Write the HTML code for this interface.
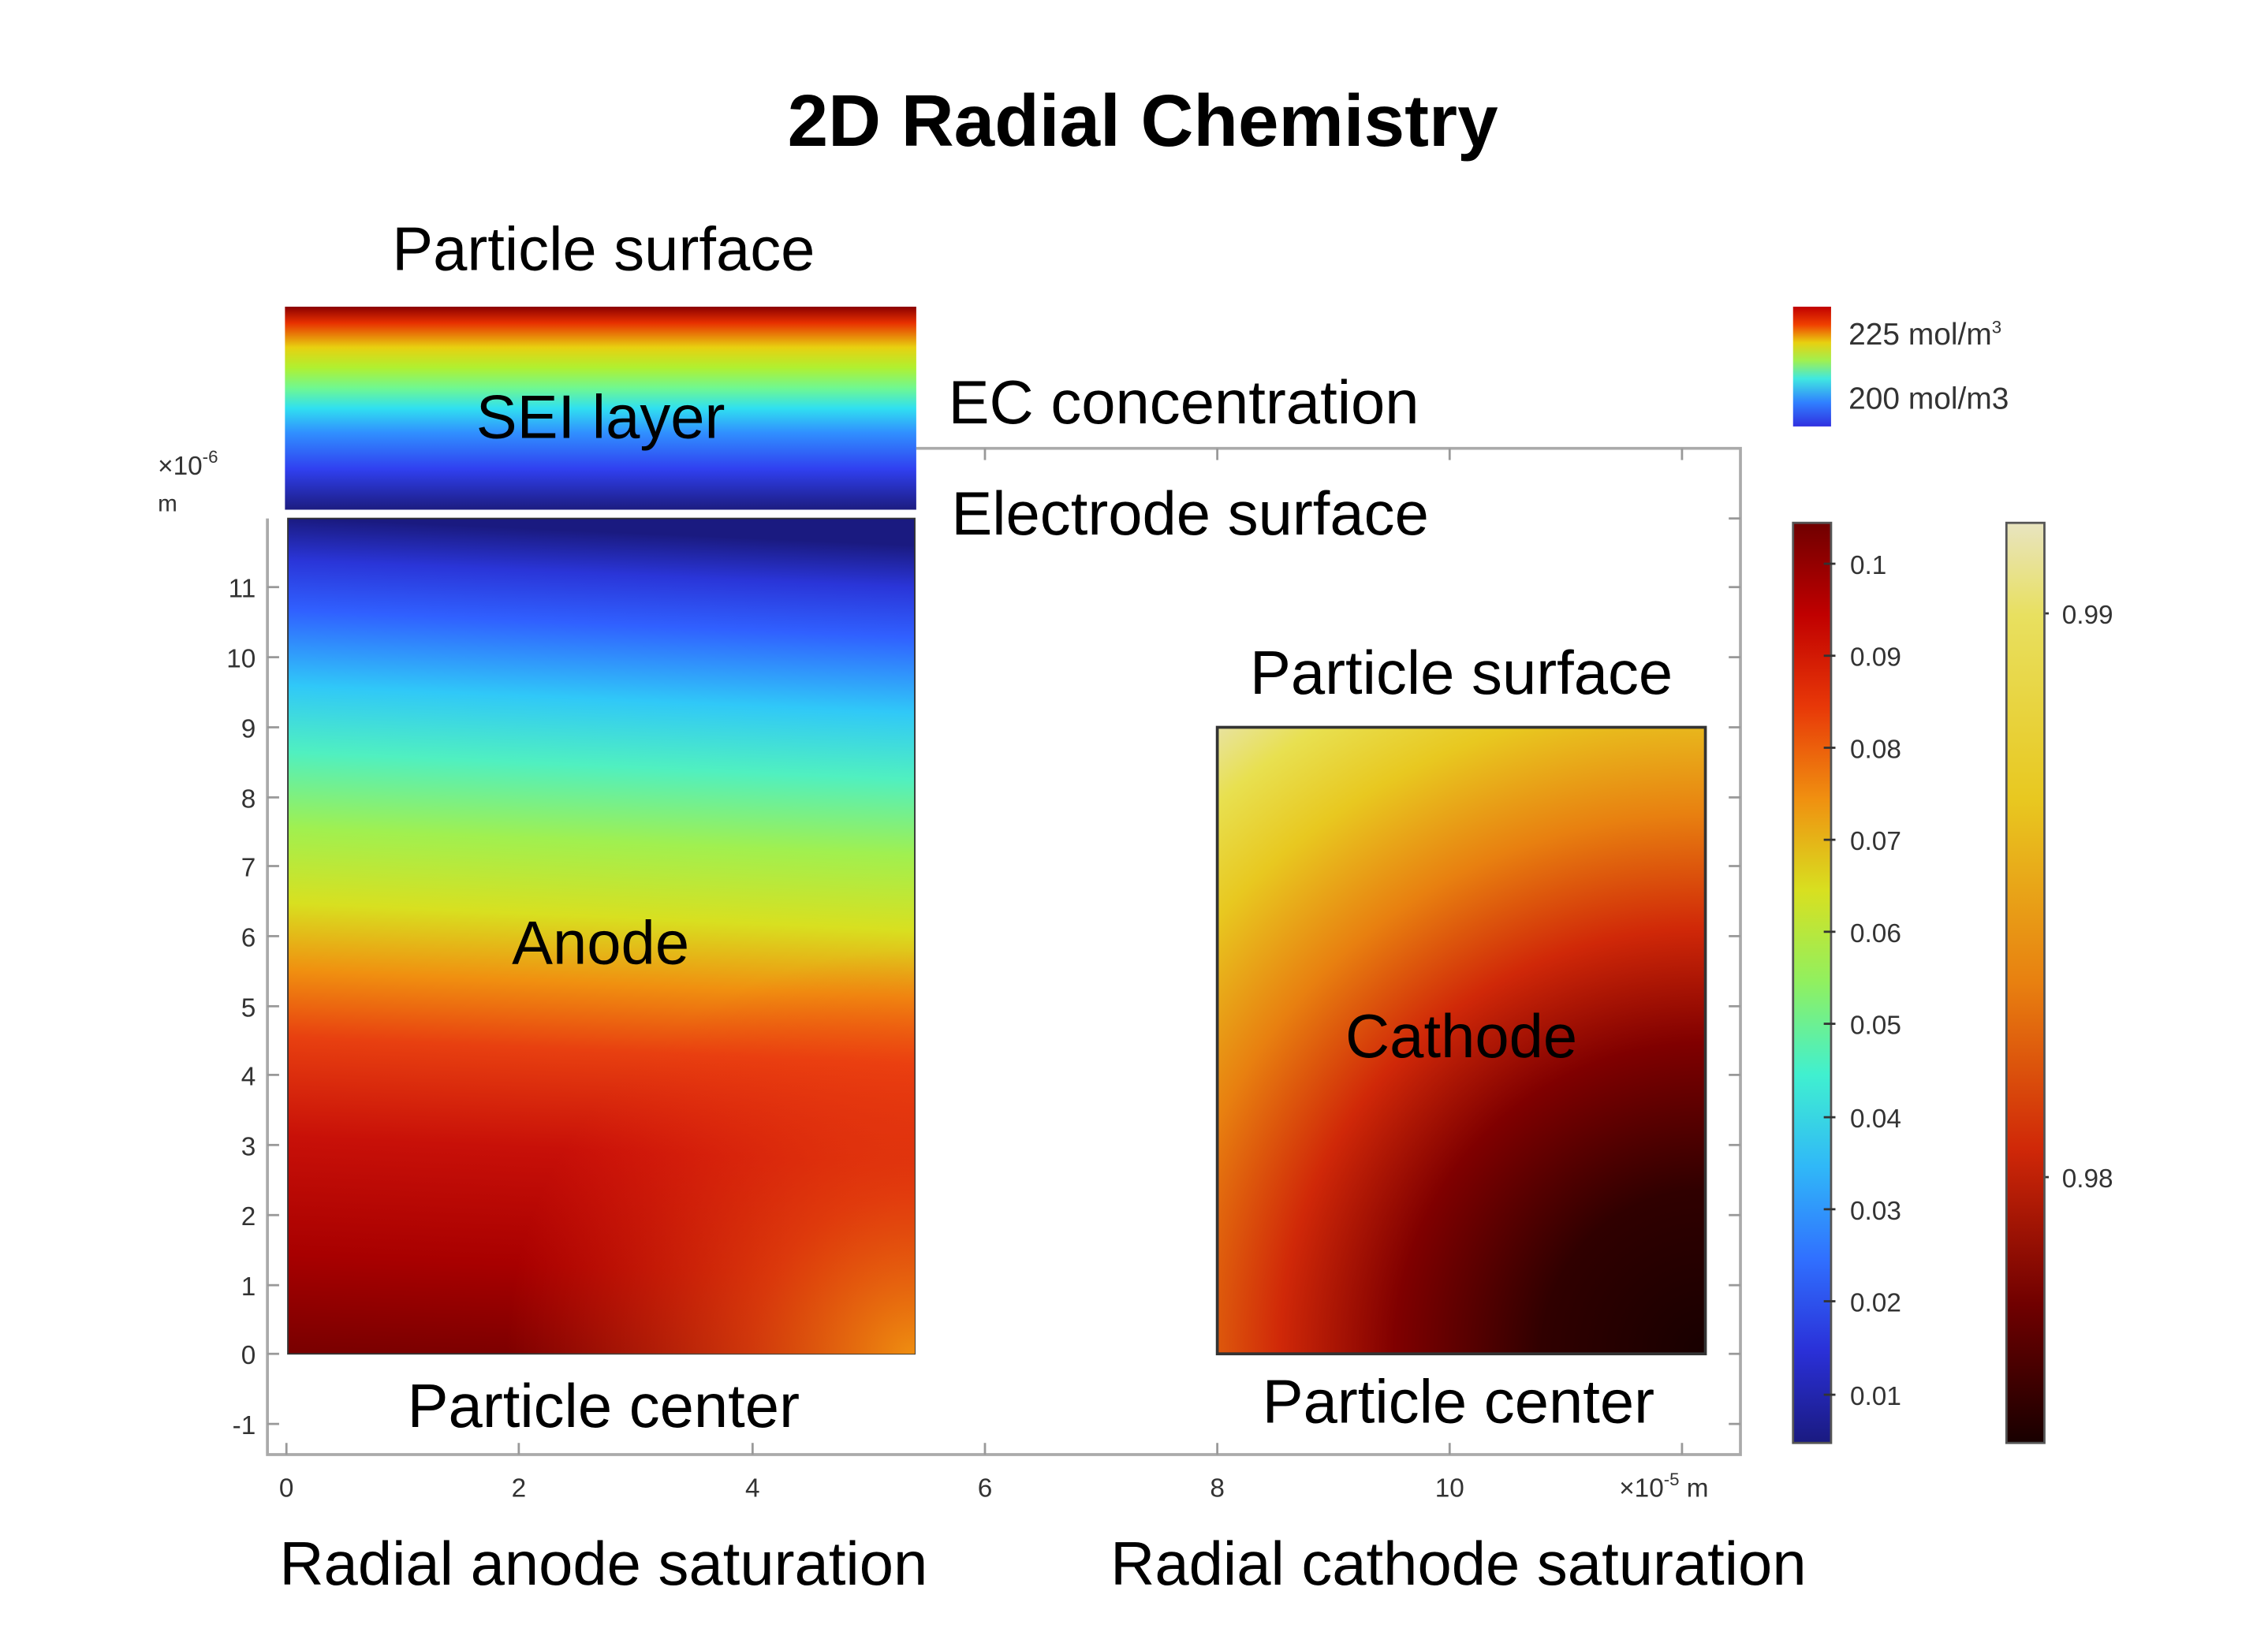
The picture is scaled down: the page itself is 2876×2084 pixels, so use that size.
<!DOCTYPE html>
<html><head><meta charset="utf-8"><style>
html,body{margin:0;padding:0;background:#fff;}
svg{display:block;}
text{font-family:"Liberation Sans",sans-serif;}
.big{font-size:42px;fill:#000;}
.tk{font-size:18px;fill:#333;}
</style></head><body>
<svg width="2876" height="2084" viewBox="0 0 1552 1125" preserveAspectRatio="none" xmlns="http://www.w3.org/2000/svg">
<defs>
<linearGradient id="sei" x1="0" y1="0" x2="0" y2="1">
<stop offset="0" stop-color="#8a0000"/><stop offset="0.08" stop-color="#e83000"/><stop offset="0.2" stop-color="#e8d010"/><stop offset="0.3" stop-color="#b0f030"/><stop offset="0.4" stop-color="#70f890"/><stop offset="0.5" stop-color="#30e0f0"/><stop offset="0.62" stop-color="#3090ff"/><stop offset="0.8" stop-color="#3040f0"/><stop offset="1" stop-color="#1c1c80"/>
</linearGradient>
<linearGradient id="anode" gradientUnits="userSpaceOnUse" x1="205" y1="355" x2="180" y2="927">
<stop offset="0" stop-color="#1a1a80"/><stop offset="0.05" stop-color="#2a35d8"/><stop offset="0.11" stop-color="#3060ff"/><stop offset="0.2" stop-color="#30c8f8"/><stop offset="0.28" stop-color="#50f0c0"/><stop offset="0.37" stop-color="#a0f050"/><stop offset="0.46" stop-color="#d8e020"/><stop offset="0.54" stop-color="#f09010"/><stop offset="0.62" stop-color="#e84010"/><stop offset="0.74" stop-color="#c81008"/><stop offset="0.88" stop-color="#a80000"/><stop offset="1" stop-color="#780000"/>
</linearGradient>
<radialGradient id="anodeBR" cx="626" cy="930" r="280" gradientUnits="userSpaceOnUse">
<stop offset="0" stop-color="#f09010" stop-opacity="1"/><stop offset="0.4" stop-color="#f05010" stop-opacity="0.7"/><stop offset="1" stop-color="#f03010" stop-opacity="0"/>
</radialGradient>
<radialGradient id="cath" cx="1167" cy="927" r="560" gradientUnits="userSpaceOnUse">
<stop offset="0" stop-color="#180000"/><stop offset="0.2" stop-color="#300000"/><stop offset="0.38" stop-color="#800000"/><stop offset="0.52" stop-color="#d02808"/><stop offset="0.66" stop-color="#e88010"/><stop offset="0.8" stop-color="#e8c820"/><stop offset="0.9" stop-color="#e8e050"/><stop offset="1" stop-color="#e8e4c0"/>
</radialGradient>
<linearGradient id="cb1" x1="0" y1="0" x2="0" y2="1">
<stop offset="0" stop-color="#c00000"/><stop offset="0.15" stop-color="#f04000"/><stop offset="0.3" stop-color="#e8d010"/><stop offset="0.45" stop-color="#a0f050"/><stop offset="0.6" stop-color="#40e8e0"/><stop offset="0.8" stop-color="#3080ff"/><stop offset="1" stop-color="#3030e0"/>
</linearGradient>
<linearGradient id="cb2" x1="0" y1="0" x2="0" y2="1">
<stop offset="0" stop-color="#700000"/><stop offset="0.1" stop-color="#c00000"/><stop offset="0.2" stop-color="#e83808"/><stop offset="0.3" stop-color="#f09010"/><stop offset="0.4" stop-color="#d8e020"/><stop offset="0.5" stop-color="#90f060"/><stop offset="0.6" stop-color="#40f0d0"/><stop offset="0.7" stop-color="#30b8f8"/><stop offset="0.8" stop-color="#3070ff"/><stop offset="0.9" stop-color="#2a30d8"/><stop offset="1" stop-color="#1a1a80"/>
</linearGradient>
<linearGradient id="cb3" x1="0" y1="0" x2="0" y2="1">
<stop offset="0" stop-color="#e8e4c0"/><stop offset="0.1" stop-color="#e8e060"/><stop offset="0.3" stop-color="#e8c820"/><stop offset="0.5" stop-color="#e88010"/><stop offset="0.68" stop-color="#d02808"/><stop offset="0.85" stop-color="#700000"/><stop offset="1" stop-color="#180000"/>
</linearGradient>
</defs>

<text x="782" y="100" text-anchor="middle" style="font-size:50px;font-weight:bold">2D Radial Chemistry</text>

<g stroke="#aaa" stroke-width="2" fill="none">
<polyline points="183,355 183,996 1191,996 1191,307 627,307"/>
</g>
<g stroke="#999" stroke-width="1.5">
<line x1="183" y1="402" x2="191" y2="402"/><line x1="183" y1="450" x2="191" y2="450"/><line x1="183" y1="498" x2="191" y2="498"/><line x1="183" y1="546" x2="191" y2="546"/><line x1="183" y1="593" x2="191" y2="593"/><line x1="183" y1="641" x2="191" y2="641"/><line x1="183" y1="689" x2="191" y2="689"/><line x1="183" y1="736" x2="191" y2="736"/><line x1="183" y1="784" x2="191" y2="784"/><line x1="183" y1="832" x2="191" y2="832"/><line x1="183" y1="880" x2="191" y2="880"/><line x1="183" y1="927" x2="191" y2="927"/><line x1="183" y1="975" x2="191" y2="975"/>
<line x1="1183" y1="355" x2="1191" y2="355"/><line x1="1183" y1="402" x2="1191" y2="402"/><line x1="1183" y1="450" x2="1191" y2="450"/><line x1="1183" y1="498" x2="1191" y2="498"/><line x1="1183" y1="546" x2="1191" y2="546"/><line x1="1183" y1="593" x2="1191" y2="593"/><line x1="1183" y1="641" x2="1191" y2="641"/><line x1="1183" y1="689" x2="1191" y2="689"/><line x1="1183" y1="736" x2="1191" y2="736"/><line x1="1183" y1="784" x2="1191" y2="784"/><line x1="1183" y1="832" x2="1191" y2="832"/><line x1="1183" y1="880" x2="1191" y2="880"/><line x1="1183" y1="927" x2="1191" y2="927"/><line x1="1183" y1="975" x2="1191" y2="975"/>
<line x1="196" y1="988" x2="196" y2="996"/><line x1="355" y1="988" x2="355" y2="996"/><line x1="515" y1="988" x2="515" y2="996"/><line x1="674" y1="988" x2="674" y2="996"/><line x1="833" y1="988" x2="833" y2="996"/><line x1="992" y1="988" x2="992" y2="996"/><line x1="1151" y1="988" x2="1151" y2="996"/>
<line x1="674" y1="307" x2="674" y2="315"/><line x1="833" y1="307" x2="833" y2="315"/><line x1="992" y1="307" x2="992" y2="315"/><line x1="1151" y1="307" x2="1151" y2="315"/>
</g>
<g class="tk" text-anchor="end">
<text x="175" y="409">11</text><text x="175" y="457">10</text><text x="175" y="505">9</text><text x="175" y="553">8</text><text x="175" y="600">7</text><text x="175" y="648">6</text><text x="175" y="696">5</text><text x="175" y="743">4</text><text x="175" y="791">3</text><text x="175" y="839">2</text><text x="175" y="887">1</text><text x="175" y="934">0</text><text x="175" y="982">-1</text>
</g>
<g class="tk" text-anchor="middle">
<text x="196" y="1025">0</text><text x="355" y="1025">2</text><text x="515" y="1025">4</text><text x="674" y="1025">6</text><text x="833" y="1025">8</text><text x="992" y="1025">10</text>
</g>
<text class="tk" x="108" y="325">×10<tspan dy="-8" style="font-size:12px">-6</tspan></text>
<text class="tk" x="108" y="350" style="font-size:16px">m</text>
<text class="tk" x="1108" y="1025">×10<tspan dy="-8" style="font-size:12px">-5</tspan><tspan dy="8"> m</tspan></text>

<rect x="195" y="210" width="432" height="139" fill="url(#sei)"/>
<rect x="197" y="355" width="429" height="572" fill="url(#anode)" stroke="#333" stroke-width="1"/>
<rect x="197" y="355" width="429" height="572" fill="url(#anodeBR)"/>
<rect x="833" y="498" width="334" height="429" fill="url(#cath)" stroke="#333" stroke-width="2"/>

<g class="big">
<text x="413" y="185" text-anchor="middle">Particle surface</text>
<text x="411" y="300" text-anchor="middle">SEI layer</text>
<text x="649" y="290">EC concentration</text>
<text x="651" y="366">Electrode surface</text>
<text x="411" y="660" text-anchor="middle">Anode</text>
<text x="1000" y="475" text-anchor="middle">Particle surface</text>
<text x="1000" y="724" text-anchor="middle">Cathode</text>
<text x="413" y="977" text-anchor="middle">Particle center</text>
<text x="998" y="974" text-anchor="middle">Particle center</text>
<text x="413" y="1085" text-anchor="middle">Radial anode saturation</text>
<text x="998" y="1085" text-anchor="middle">Radial cathode saturation</text>
</g>

<rect x="1227" y="210" width="26" height="82" fill="url(#cb1)"/>
<text x="1265" y="236" style="font-size:21px;fill:#333">225 mol/m<tspan dy="-8" style="font-size:12px">3</tspan></text>
<text x="1265" y="280" style="font-size:21px;fill:#333">200 mol/m3</text>

<rect x="1227" y="358" width="26" height="630" fill="url(#cb2)" stroke="#555" stroke-width="1.5"/>
<g stroke="#333" stroke-width="1.5">
<line x1="1248" y1="386" x2="1256" y2="386"/><line x1="1248" y1="449" x2="1256" y2="449"/><line x1="1248" y1="512" x2="1256" y2="512"/><line x1="1248" y1="575" x2="1256" y2="575"/><line x1="1248" y1="638" x2="1256" y2="638"/><line x1="1248" y1="701" x2="1256" y2="701"/><line x1="1248" y1="765" x2="1256" y2="765"/><line x1="1248" y1="828" x2="1256" y2="828"/><line x1="1248" y1="891" x2="1256" y2="891"/><line x1="1248" y1="955" x2="1256" y2="955"/>
<line x1="1394" y1="420" x2="1402" y2="420"/><line x1="1394" y1="806" x2="1402" y2="806"/>
</g>
<g class="tk">
<text x="1266" y="393">0.1</text><text x="1266" y="456">0.09</text><text x="1266" y="519">0.08</text><text x="1266" y="582">0.07</text><text x="1266" y="645">0.06</text><text x="1266" y="708">0.05</text><text x="1266" y="772">0.04</text><text x="1266" y="835">0.03</text><text x="1266" y="898">0.02</text><text x="1266" y="962">0.01</text>
<text x="1411" y="427">0.99</text><text x="1411" y="813">0.98</text>
</g>
<rect x="1373" y="358" width="26" height="630" fill="url(#cb3)" stroke="#555" stroke-width="1.5"/>
</svg>
</body></html>
